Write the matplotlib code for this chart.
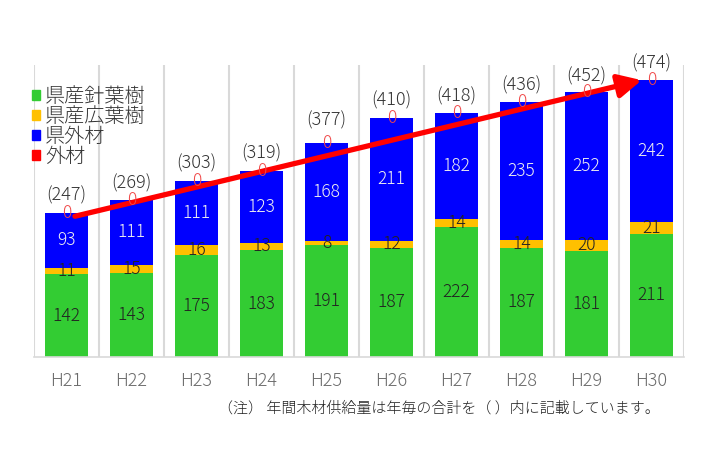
import matplotlib.pyplot as plt
from matplotlib.patches import Patch

plt.rcParams['font.family'] = ['Noto Sans CJK JP', 'DejaVu Sans']
plt.rcParams['font.weight'] = 'light'

years = ['H21', 'H22', 'H23', 'H24', 'H25', 'H26', 'H27', 'H28', 'H29', 'H30']
shinyou = [142, 143, 175, 183, 191, 187, 222, 187, 181, 211]   # 県産針葉樹
kouyou = [11, 15, 16, 13, 8, 12, 14, 14, 20, 21]               # 県産広葉樹
kengai = [93, 111, 111, 123, 168, 211, 182, 235, 252, 242]      # 県外材
gaizai = [0, 0, 0, 0, 0, 0, 0, 0, 0, 0]                         # 外材
totals = [247, 269, 303, 319, 377, 410, 418, 436, 452, 474]

# arrow (start / end in data units)
arrow_start = (0.13, 241)
arrow_end = (8.85, 474)

c_green = '#33CC33'
c_yellow = '#FFC000'
c_blue = '#0000FF'
c_red = '#FF0000'

fig = plt.figure(figsize=(7.04, 4.70), dpi=100)
ax = fig.add_axes([0.0483, 0.2404, 0.9233, 0.6213])

x = list(range(len(years)))
w = 0.66
b1 = ax.bar(x, shinyou, w, color=c_green, zorder=2)
bot2 = shinyou
b2 = ax.bar(x, kouyou, w, bottom=bot2, color=c_yellow, zorder=2)
bot3 = [a + b for a, b in zip(shinyou, kouyou)]
b3 = ax.bar(x, kengai, w, bottom=bot3, color=c_blue, zorder=2)
bot4 = [a + b for a, b in zip(bot3, kengai)]
b4 = ax.bar(x, gaizai, w, bottom=bot4, color=c_red, zorder=2)

ax.bar_label(b1, label_type='center', fontsize=12.5, color='#222222')
ax.bar_label(b2, label_type='center', fontsize=12.5, color='#222222')
ax.bar_label(b3, label_type='center', fontsize=12.5, color='#F0F0F0')
ax.bar_label(b4, label_type='center', fontsize=12.5, color='#F04848', zorder=5)

for i, t in enumerate(totals):
    ax.annotate('(%d)' % t, (i, t), xytext=(0, 17), textcoords='offset pixels',
                ha='center', va='center', fontsize=13, color='#333333')

ax.annotate('', xy=arrow_end, xytext=arrow_start,
            arrowprops=dict(arrowstyle='-|>,head_length=1.4,head_width=0.7',
                            color=c_red, lw=3.8, shrinkA=0, shrinkB=0),
            zorder=4)

ax.set_xlim(-0.5, 9.5)
ax.set_ylim(0, 500)
ax.set_xticks(x)
ax.set_xticklabels(years, fontsize=13, color='#6A6A6A')
ax.tick_params(axis='x', length=0, pad=11)
ax.set_yticks([])
for i in range(len(years) + 1):
    ax.axvline(i - 0.5, color='#D9D9D9', lw=1.5, zorder=1)
for s in ['top', 'left', 'right']:
    ax.spines[s].set_visible(False)
ax.spines['bottom'].set_color('#D9D9D9')
ax.spines['bottom'].set_linewidth(1.2)

handles = [Patch(color=c_green), Patch(color=c_yellow), Patch(color=c_blue), Patch(color=c_red)]
names = ['県産針葉樹', '県産広葉樹', '県外材', '外材']
fig.legend(handles, names, loc='upper left', bbox_to_anchor=(22 / 704, 1 - 76 / 470),
           frameon=False, fontsize=14.5, handlelength=0.4, handleheight=0.4,
           handletextpad=0.25, labelspacing=-0.05, borderpad=0, labelcolor='#333333')

fig.text(218 / 704, 1 - 408 / 470, '（注） 年間木材供給量は年毎の合計を（ ）内に記載しています。',
         fontsize=10.8, color='#222222', va='center', ha='left')

fig.savefig('out.png', dpi=100)
